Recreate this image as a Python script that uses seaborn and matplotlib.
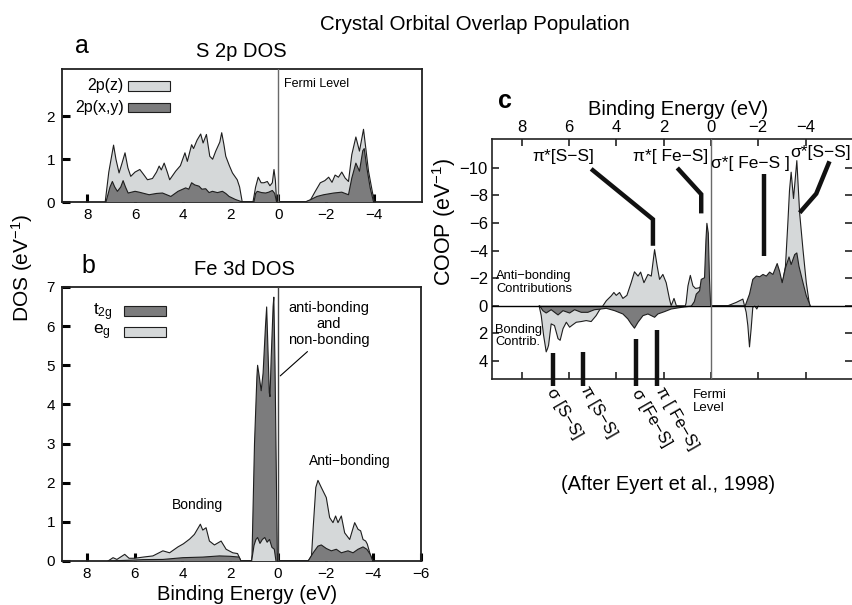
import numpy as np
import matplotlib
matplotlib.use("Agg")
import matplotlib.pyplot as plt
from matplotlib.patches import Rectangle
import seaborn as sns

# ---------------- S 2p partial DOS (panel a) ----------------
s2p_total_e = [7.25, 7.10, 6.90, 6.80, 6.67, 6.55, 6.42, 6.30, 6.18, 6.00, 5.80, 5.65, 5.48, 5.27,
               5.10, 4.99, 4.90, 4.78, 4.65, 4.55, 4.30, 4.10, 3.91, 3.81, 3.63, 3.55, 3.40, 3.25,
               3.15, 3.01, 2.87, 2.75, 2.62, 2.45, 2.37, 2.28, 2.20, 2.05, 1.92, 1.72, 1.62, 1.51,
               1.06, 0.95, 0.84, 0.72, 0.60, 0.46, 0.35, 0.25, 0.18, 0.12, 0.07,
               -1.13, -1.34, -1.55, -1.76, -1.95, -2.11, -2.25, -2.38, -2.52, -2.66, -2.80, -2.94,
               -3.08, -3.25, -3.40, -3.57, -3.68, -3.78, -4.02]
s2p_total_v = [0.00, 0.70, 1.33, 1.00, 0.68, 0.90, 1.15, 0.80, 0.60, 0.70, 0.76, 0.65, 0.52, 0.55,
               0.70, 0.84, 0.75, 0.91, 0.70, 0.52, 0.72, 0.85, 1.15, 0.95, 1.34, 1.25, 1.45, 1.59,
               1.38, 1.58, 1.07, 1.00, 1.19, 1.40, 1.62, 1.35, 1.07, 0.85, 0.68, 0.52, 0.35, 0.00,
               0.00, 0.35, 0.58, 0.45, 0.45, 0.48, 0.38, 0.45, 0.76, 0.50, 0.00,
               0.00, 0.04, 0.25, 0.45, 0.50, 0.58, 0.46, 0.63, 0.58, 0.70, 0.56, 0.48,
               1.11, 1.52, 1.19, 1.70, 1.19, 0.72, 0.00]
s2p_xy_e = [7.22, 7.05, 6.95, 6.85, 6.74, 6.60, 6.50, 6.40, 6.29, 6.00, 5.83, 5.41, 5.10, 4.85,
            4.50, 4.20, 3.88, 3.75, 3.63, 3.50, 3.32, 3.20, 3.04, 2.90, 2.76, 2.55, 2.34, 2.20,
            2.06, 1.80, 1.65, 1.50,
            1.02, 0.95, 0.88, 0.70, 0.53, 0.40, 0.25, 0.15, 0.07,
            -1.13, -1.41, -1.62, -1.90, -2.32, -2.66, -2.94, -3.08, -3.25, -3.40, -3.54, -3.60,
            -3.71, -3.85, -3.99]
s2p_xy_v = [0.00, 0.35, 0.48, 0.35, 0.25, 0.35, 0.50, 0.35, 0.21, 0.25, 0.23, 0.17, 0.20, 0.21,
            0.13, 0.25, 0.33, 0.30, 0.45, 0.40, 0.37, 0.30, 0.31, 0.22, 0.25, 0.22, 0.25, 0.20,
            0.13, 0.06, 0.03, 0.00,
            0.00, 0.20, 0.25, 0.22, 0.21, 0.23, 0.27, 0.20, 0.00,
            0.00, 0.07, 0.13, 0.17, 0.21, 0.23, 0.17, 0.56, 0.91, 0.72, 1.20, 1.25,
            0.80, 0.33, 0.00]

# ---------------- Fe 3d partial DOS (panel b) ----------------
eg_e = [7.12, 6.91, 6.75, 6.42, 6.24, 6.00, 5.65, 5.24, 4.82, 4.54, 4.19, 3.96, 3.70, 3.50,
        3.25, 3.15, 3.01, 2.87, 2.66, 2.38, 2.17, 1.89, 1.69, 1.55,
        1.10, 1.00, 0.92, 0.85, 0.75, 0.65, 0.55, 0.45, 0.35, 0.25, 0.15, 0.08,
        -1.27, -1.41, -1.48, -1.59, -1.68, -1.82, -2.03, -2.17, -2.31, -2.42, -2.52, -2.66,
        -2.80, -3.01, -3.22, -3.36, -3.47, -3.57, -3.68, -3.75, -3.87, -3.98]
eg_v = [0.00, 0.085, 0.04, 0.17, 0.07, 0.07, 0.10, 0.13, 0.26, 0.21, 0.36, 0.44, 0.56, 0.68,
        0.94, 0.79, 0.85, 0.51, 0.41, 0.51, 0.30, 0.21, 0.19, 0.00,
        0.00, 0.40, 0.55, 0.60, 0.45, 0.55, 0.60, 0.48, 0.55, 0.35, 0.30, 0.00,
        0.00, 0.13, 0.85, 1.88, 2.06, 1.88, 1.62, 1.11, 0.98, 1.15, 0.98, 1.15,
        0.72, 0.55, 0.98, 0.81, 0.77, 0.55, 0.51, 0.43, 0.17, 0.00]
t2g_e = [7.12, 6.21, 5.65, 4.82, 3.98, 3.15, 2.45, 2.00, 1.62, 1.55,
         1.09, 0.98, 0.88, 0.85, 0.80, 0.70, 0.62, 0.52, 0.47, 0.42, 0.36, 0.33, 0.28, 0.20,
         0.17, 0.12, 0.06, 0.02,
         -1.27, -1.48, -1.68, -1.82, -2.03, -2.24, -2.45, -2.66, -2.94, -3.15, -3.36, -3.57,
         -3.73, -3.87, -3.98]
t2g_v = [0.00, 0.02, 0.035, 0.04, 0.085, 0.10, 0.13, 0.12, 0.10, 0.00,
         0.00, 3.00, 4.70, 5.00, 4.80, 4.35, 4.80, 6.00, 6.49, 5.50, 4.30, 4.20, 5.20, 6.50,
         6.74, 5.00, 2.00, 0.00,
         0.00, 0.21, 0.38, 0.41, 0.32, 0.26, 0.30, 0.21, 0.26, 0.21, 0.30, 0.36,
         0.30, 0.17, 0.00]

# ---------------- COOP (panel c); negative = anti-bonding ----------------
coop_light_e = [7.26, 7.17, 7.07, 6.96, 6.90, 6.86, 6.75, 6.61, 6.46, 6.37, 6.25, 6.11, 5.97,
                5.85, 5.69, 5.48, 5.27, 5.06, 4.85, 4.70, 4.56, 4.42, 4.21, 4.10, 4.00, 3.86,
                3.72, 3.55, 3.37, 3.23, 3.08, 2.97, 2.83, 2.66, 2.52, 2.38, 2.27, 2.17, 2.03,
                1.89, 1.75, 1.68, 1.56, 1.46, 1.08, 1.05, 0.97, 0.87, 0.76, 0.65, 0.50, 0.30,
                0.10, 0.00,
                -0.72, -1.07, -1.35, -1.42, -1.49, -1.56, -1.63, -1.70, -1.77, -1.85, -1.94,
                -2.00, -2.20, -2.80, -3.01, -3.15, -3.25, -3.32, -3.39, -3.49, -3.63, -3.75,
                -3.89, -4.03, -4.17]
coop_light_v = [0.00, 0.72, 2.15, 3.35, 3.10, 2.87, 1.32, 1.44, 2.39, 2.51, 1.67, 1.20, 1.56,
                1.40, 1.20, 1.15, 1.08, 1.15, 0.72, 0.29, 0.00, -0.36, -0.72, -0.96, -0.75, -0.96,
                -0.53, -0.75, -1.67, -2.46, -2.15, -2.44, -1.67, -2.27, -2.15, -4.07, -2.87, -1.91,
                -2.27, -1.67, -0.48, 0.00, -0.53, 0.00, 0.00, -0.20, -1.44, -2.20, -1.44, -1.25,
                -1.30, -1.50, -1.00, 0.00,
                0.00, -0.24, -0.48, 0.00, 0.48, 1.44, 2.99, 1.67, 0.12, 0.00, 0.24,
                0.00, -1.50, -2.50, -1.50, -2.87, -5.98, -8.37, -9.69, -7.78, -10.53, -6.70,
                -4.07, -1.67, 0.00]
coop_dark_e = [7.24, 7.10, 6.96, 6.75, 6.46, 6.25, 5.97, 5.76, 5.48, 5.20, 4.92, 4.70, 4.42,
               4.07, 3.72, 3.51, 3.37, 3.23, 3.08, 2.87, 2.66, 2.52, 2.38, 2.24, 1.96, 1.68,
               1.25, 0.83, 0.70, 0.62, 0.48, 0.41, 0.27, 0.21, 0.17, 0.11, 0.06, 0.01,
               -1.45, -1.63, -1.77, -1.92, -2.06, -2.20, -2.34, -2.48, -2.62, -2.80, -2.90,
               -3.01, -3.15, -3.30, -3.39, -3.54, -3.63, -3.72, -3.89, -4.03, -4.20]
coop_dark_v = [0.00, 0.36, 0.53, 0.29, 0.67, 0.36, 0.53, 0.29, 0.48, 0.48, 0.29, 0.25, 0.19,
               0.36, 0.60, 0.96, 1.32, 1.63, 1.20, 0.72, 0.60, 0.72, 0.84, 0.60, 0.43, 0.24,
               0.12, 0.03, -0.30, -0.84, -1.08, -1.91, -2.03, -4.78, -5.98, -5.26, -1.91, 0.00,
               0.00, -0.84, -1.91, -2.15, -2.10, -2.27, -2.15, -2.44, -2.27, -3.06, -2.51,
               -1.67, -2.75, -3.54, -2.99, -3.71, -3.83, -2.87, -1.67, -0.72, 0.00]

dos_ticks_x = [8, 6, 4, 2, 0, -2, -4]
dos_b_ticks_x = [8, 6, 4, 2, 0, -2, -4, -6]
coop_ticks_y = [-10, -8, -6, -4, -2, 0, 2, 4]

# ---------------- style ----------------
sns.set_theme(style="ticks")
plt.rcParams["font.family"] = ["Liberation Sans", "DejaVu Sans"]
plt.rcParams["mathtext.fontset"] = "custom"
plt.rcParams["mathtext.rm"] = "Liberation Sans"
plt.rcParams["mathtext.it"] = "Liberation Sans:italic"
plt.rcParams["mathtext.bf"] = "Liberation Sans:bold"
plt.rcParams["axes.unicode_minus"] = True
for key in ("text.color", "axes.labelcolor", "xtick.color", "ytick.color",
            "xtick.labelcolor", "ytick.labelcolor"):
    plt.rcParams[key] = "black"

W, H = 852, 605
fig = plt.figure(figsize=(W / 100, H / 100), dpi=100)
fig.patch.set_facecolor("white")


def fx(px):
    return px / W


def fy(py):
    return 1 - py / H


def box(l, t, r, b):
    return [fx(l), fy(b), (r - l) / W, (b - t) / H]


LIGHT = "#d5d8d9"
DARK = "#7c7c7d"
EDGE = "#1e1e1e"


def band(ax, e, v, color, z):
    e = np.asarray(e, float)
    v = np.asarray(v, float)
    ax.fill_between(e, v, 0, facecolor=color, edgecolor="none", zorder=z)
    sns.lineplot(x=e, y=v, ax=ax, color=EDGE, lw=0.8, sort=False,
                 estimator=None, legend=False, zorder=z + 0.1)


def ftext(px, py, s, **kw):
    kw.setdefault("color", "black")
    fig.text(fx(px), fy(py), s, **kw)


def dos_axes(ax):
    for sp in ax.spines.values():
        sp.set_linewidth(1.3)
        sp.set_color("#222222")
    ax.tick_params(axis="both", direction="in", length=6, width=2.2, color="black",
                   labelcolor="black", labelsize=11, top=False, right=False)
    ax.tick_params(axis="x", pad=4)
    ax.tick_params(axis="y", pad=5)
    ax.set_xlabel("")
    ax.set_ylabel("")
    ax.set_facecolor("white")


# ---------------- panel a ----------------
ax_a = fig.add_axes(box(62, 69, 422, 202))
band(ax_a, s2p_total_e, s2p_total_v, LIGHT, 2)
band(ax_a, s2p_xy_e, s2p_xy_v, DARK, 3)
ax_a.axvline(0, color="#6a6a6a", lw=1.0, zorder=4)
ax_a.set_xlim(9.06, -6.02)
ax_a.set_ylim(0, 3.11)
ax_a.set_xticks(dos_ticks_x)
ax_a.set_yticks([0, 1, 2])
dos_axes(ax_a)

for (top, col, lab) in [(81, LIGHT, "2p(z)"), (102.7, DARK, "2p(x,y)")]:
    fig.patches.append(Rectangle((fx(128.3), fy(top + 9.7)), 41.7 / W, 9.7 / H,
                                 transform=fig.transFigure, facecolor=col,
                                 edgecolor=EDGE, lw=0.8, zorder=5))
    ftext(124, top + 4.9, lab, ha="right", va="center", fontsize=11.5)

ftext(284, 87.3, "Fermi Level", ha="left", va="baseline", fontsize=9)

# ---------------- panel b ----------------
ax_b = fig.add_axes(box(62, 287, 421, 561))
band(ax_b, eg_e, eg_v, LIGHT, 2)
band(ax_b, t2g_e, t2g_v, DARK, 3)
eg_e_arr = np.asarray(eg_e)
near = (eg_e_arr > 0.0) & (eg_e_arr < 1.2)
band(ax_b, eg_e_arr[near], np.asarray(eg_v)[near], LIGHT, 4)
ax_b.axvline(0, color="#444444", lw=1.0, zorder=5)
ax_b.set_xlim(9.05, -6.0)
ax_b.set_ylim(0, 7)
ax_b.set_xticks(dos_b_ticks_x)
ax_b.set_yticks(range(0, 8))
dos_axes(ax_b)
ax_b.plot([-1.24, -0.10], [5.35, 4.73], color="black", lw=0.8, zorder=6)

for (top, col, lab) in [(306, DARK, r"t$_{\mathregular{2g}}$"), (326.7, LIGHT, r"e$_{\mathregular{g}}$")]:
    fig.patches.append(Rectangle((fx(124.3), fy(top + 10)), 41.4 / W, 10 / H,
                                 transform=fig.transFigure, facecolor=col,
                                 edgecolor=EDGE, lw=0.8, zorder=5))
    ftext(92.7, top + 6, lab, ha="left", va="center", fontsize=12.5)

ftext(329, 311.7, "anti-bonding", ha="center", va="baseline", fontsize=10.5)
ftext(329, 328.0, "and", ha="center", va="baseline", fontsize=10.5)
ftext(329, 344.0, "non-bonding", ha="center", va="baseline", fontsize=10.5)
ftext(350, 465, "Anti\u2212bonding", ha="center", va="baseline", fontsize=10)
ftext(197.7, 509, "Bonding", ha="center", va="baseline", fontsize=10)

# ---------------- panel c ----------------
ax_c = fig.add_axes(box(492, 139, 851.5, 379))
band(ax_c, coop_light_e, coop_light_v, LIGHT, 2)
band(ax_c, coop_dark_e, coop_dark_v, DARK, 3)
ax_c.axhline(0, color="black", lw=1.0, zorder=4)
ax_c.axvline(0, color="#6a6a6a", lw=1.0, zorder=4)
ax_c.set_xlim(9.25, -5.94)
ax_c.set_ylim(5.32, -12.1)
ax_c.set_xticks(dos_ticks_x)
ax_c.set_yticks(coop_ticks_y)
ax_c.spines["right"].set_visible(False)
for k in ("left", "top", "bottom"):
    ax_c.spines[k].set_linewidth(1.2)
    ax_c.spines[k].set_color("#222222")
ax_c.tick_params(axis="both", direction="in", length=5, width=1.2, color="#222222",
                 labelcolor="black", labelsize=12, pad=3)
ax_c.tick_params(axis="x", top=True, labeltop=True, bottom=True, labelbottom=False)
ax_c.tick_params(axis="y", left=True, right=True, labelright=False)
ax_c.set_xlabel("")
ax_c.set_ylabel("")
ax_c.set_facecolor("white")

# anti-bonding leader lines
lead = dict(color="#111111", lw=3.2, solid_capstyle="butt", solid_joinstyle="miter",
            clip_on=False, zorder=6)
ax_c.plot([5.06, 2.45, 2.45], [-9.93, -6.27, -4.35], **lead)
ax_c.plot([1.42, 0.41, 0.41], [-10.0, -8.09, -6.70], **lead)
ax_c.plot([-2.24, -2.24], [-9.57, -3.59], **lead)
ax_c.plot([-5.01, -4.45, -3.75], [-10.48, -8.13, -6.75], **lead)
# bonding markers below the axis
for xb, y0 in [(6.67, 3.45), (5.40, 3.38), (3.18, 2.44), (2.28, 1.76)]:
    ax_c.plot([xb, xb], [y0, 5.85], **lead)

ftext(563, 161, "\u03c0*[S\u2212S]", ha="center", va="baseline", fontsize=12.5)
ftext(671, 161, "\u03c0*[ Fe\u2212S]", ha="center", va="baseline", fontsize=12.5)
ftext(750, 168, "\u03c3*[ Fe\u2212S ]", ha="center", va="baseline", fontsize=12.5)
ftext(821, 156.5, "\u03c3*[S\u2212S]", ha="center", va="baseline", fontsize=12.5)

ftext(496, 279, "Anti\u2212bonding", ha="left", va="baseline", fontsize=9.3)
ftext(496, 291.7, "Contributions", ha="left", va="baseline", fontsize=9.3)
ftext(495, 333, "Bonding", ha="left", va="baseline", fontsize=9.3)
ftext(495, 345, "Contrib.", ha="left", va="baseline", fontsize=9.3)

ftext(693.3, 398.3, "Fermi", ha="left", va="baseline", fontsize=9.5)
ftext(693.3, 411, "Level", ha="left", va="baseline", fontsize=9.5)

for px, py, s in [(564, 413.3, "\u03c3 [S\u2212S]"), (599, 411.7, "\u03c0 [S\u2212S]"),
                  (651.7, 418.3, "\u03c3 [Fe\u2212S]"), (676.7, 418.3, "\u03c0 [ Fe\u2212S]")]:
    ftext(px, py, s, ha="center", va="center", rotation=-60, fontsize=12)

# ---------------- titles and axis labels ----------------
ftext(475, 29.5, "Crystal Orbital Overlap Population", ha="center", va="baseline", fontsize=14.8)
ftext(75, 53.3, "a", ha="left", va="baseline", fontsize=18)
ftext(241, 56.7, "S 2p DOS", ha="center", va="baseline", fontsize=14.5)
ftext(81, 273.3, "b", ha="left", va="baseline", fontsize=18)
ftext(244, 275, "Fe 3d DOS", ha="center", va="baseline", fontsize=14.5)
ftext(498, 108.3, "c", ha="left", va="baseline", fontsize=18, fontweight="bold")
ftext(678, 115, "Binding Energy (eV)", ha="center", va="baseline", fontsize=14.5)
ftext(247.5, 600, "Binding Energy (eV)", ha="center", va="baseline", fontsize=14.5)
ftext(22, 268, r"DOS (eV$^{-1}$)", ha="center", va="center", rotation=90, fontsize=15)
ftext(444.5, 222, r"COOP (eV$^{-1}$)", ha="center", va="center", rotation=90, fontsize=15.5)
ftext(668, 490, "(After Eyert et al., 1998)", ha="center", va="baseline", fontsize=14.5)

fig.savefig("out.png", dpi=100, facecolor="white")
